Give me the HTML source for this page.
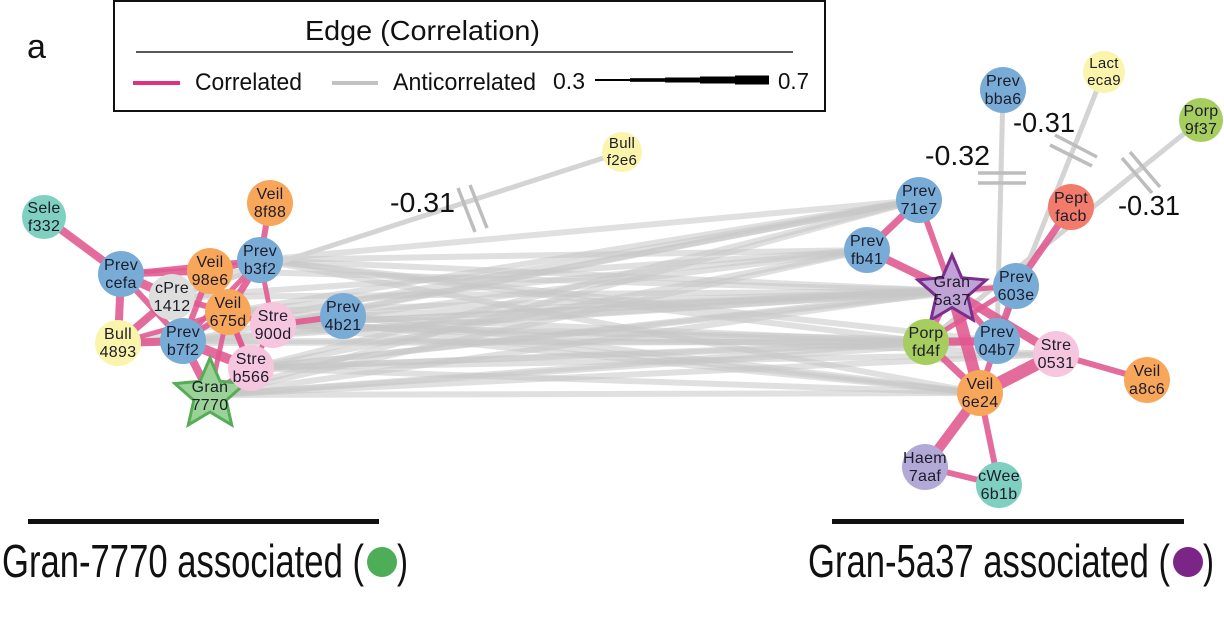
<!DOCTYPE html>
<html><head><meta charset="utf-8">
<style>
html,body{margin:0;padding:0;background:#fff;}
svg{display:block;}
text{font-family:"Liberation Sans",Arial,sans-serif;}
.nl{font-size:16px;fill:#1c1c2a;text-anchor:middle;letter-spacing:0.3px;}
</style></head>
<body>
<svg width="1224" height="628" viewBox="0 0 1224 628" xmlns="http://www.w3.org/2000/svg">
<rect width="1224" height="628" fill="#fff"/>

<!-- Legend -->
<text x="27" y="58" font-size="34" fill="#111">a</text>
<rect x="114" y="1" width="711" height="110" fill="none" stroke="#111" stroke-width="2"/>
<text x="305" y="40" font-size="28" fill="#111" textLength="235" lengthAdjust="spacingAndGlyphs">Edge (Correlation)</text>
<line x1="136" y1="52" x2="793" y2="52" stroke="#222" stroke-width="1.5"/>
<line x1="133" y1="83" x2="180" y2="83" stroke="#e0307f" stroke-width="4"/>
<text x="195" y="90" font-size="24" fill="#111" textLength="107" lengthAdjust="spacingAndGlyphs">Correlated</text>
<line x1="332" y1="83" x2="378" y2="83" stroke="#c2c2c2" stroke-width="4"/>
<text x="393" y="90" font-size="24" fill="#111" textLength="143" lengthAdjust="spacingAndGlyphs">Anticorrelated</text>
<text x="553" y="89" font-size="23" fill="#111" textLength="32" lengthAdjust="spacingAndGlyphs">0.3</text>
<g fill="#000">
<rect x="595" y="79" width="36" height="2"/>
<rect x="630" y="78.2" width="36" height="3.6"/>
<rect x="665" y="77.5" width="36" height="5"/>
<rect x="700" y="76.5" width="36" height="7"/>
<rect x="735" y="75.5" width="34" height="9"/>
</g>
<text x="778" y="89" font-size="23" fill="#111" textLength="31" lengthAdjust="spacingAndGlyphs">0.7</text>

<!-- Gray anticorrelated bundle -->
<g stroke="#c6c6c6" stroke-width="6" stroke-opacity="0.55" stroke-linecap="round">
<!-- to 71e7 -->
<line x1="260" y1="260" x2="919" y2="200"/>
<line x1="273" y1="325" x2="919" y2="200"/>
<line x1="251" y1="368" x2="919" y2="200"/>
<line x1="228" y1="312" x2="919" y2="200"/>
<line x1="210" y1="395" x2="919" y2="200"/>
<line x1="118" y1="343" x2="919" y2="200"/>
<line x1="183" y1="341" x2="919" y2="200"/>
<!-- to fb41 -->
<line x1="260" y1="260" x2="867" y2="250"/>
<line x1="273" y1="325" x2="867" y2="250"/>
<line x1="251" y1="368" x2="867" y2="250"/>
<line x1="210" y1="395" x2="867" y2="250"/>
<line x1="228" y1="312" x2="867" y2="250"/>
<line x1="172" y1="297" x2="867" y2="250"/>
<!-- to 5a37 -->
<line x1="260" y1="260" x2="952" y2="291"/>
<line x1="210" y1="271" x2="952" y2="291"/>
<line x1="273" y1="325" x2="952" y2="291"/>
<line x1="251" y1="368" x2="952" y2="291"/>
<line x1="210" y1="395" x2="952" y2="291"/>
<line x1="228" y1="312" x2="952" y2="291"/>
<line x1="183" y1="341" x2="952" y2="291"/>
<line x1="118" y1="343" x2="952" y2="291"/>
<line x1="172" y1="297" x2="952" y2="291"/>
<line x1="343" y1="316" x2="952" y2="291"/>
<!-- to fd4f -->
<line x1="260" y1="260" x2="926" y2="342"/>
<line x1="273" y1="325" x2="926" y2="342"/>
<line x1="251" y1="368" x2="926" y2="342"/>
<line x1="210" y1="395" x2="926" y2="342"/>
<line x1="228" y1="312" x2="926" y2="342"/>
<line x1="183" y1="341" x2="926" y2="342"/>
<line x1="118" y1="343" x2="926" y2="342"/>
<!-- to 04b7 -->
<line x1="260" y1="260" x2="997" y2="341"/>
<line x1="273" y1="325" x2="997" y2="341"/>
<line x1="210" y1="395" x2="997" y2="341"/>
<line x1="251" y1="368" x2="997" y2="341"/>
<!-- to 6e24 -->
<line x1="260" y1="260" x2="980" y2="393"/>
<line x1="273" y1="325" x2="980" y2="393"/>
<line x1="251" y1="368" x2="980" y2="393"/>
<line x1="210" y1="395" x2="980" y2="393"/>
<line x1="228" y1="312" x2="980" y2="393"/>
<line x1="343" y1="316" x2="980" y2="393"/>
<!-- to 0531 -->
<line x1="273" y1="325" x2="1056" y2="354"/>
<line x1="251" y1="368" x2="1056" y2="354"/>
<line x1="210" y1="395" x2="1056" y2="354"/>
<!-- to 603e -->
<line x1="273" y1="325" x2="1016" y2="286"/>
<line x1="251" y1="368" x2="1016" y2="286"/>
</g>

<!-- labelled anticorrelated edges -->
<g stroke="#d4d4d4" stroke-width="5">
<line x1="622" y1="152" x2="172" y2="297"/>
<line x1="1003" y1="90" x2="997" y2="341"/>
<line x1="1104" y1="72" x2="997" y2="341"/>
<line x1="1201" y1="120" x2="926" y2="342"/>
</g>
<g stroke="#bdbdbd" stroke-width="3.5">
<line x1="458" y1="188" x2="475" y2="232"/>
<line x1="470" y1="185" x2="487" y2="228"/>
<line x1="978" y1="173" x2="1026" y2="173"/>
<line x1="978" y1="183" x2="1026" y2="183"/>
<line x1="1055" y1="135" x2="1097" y2="157"/>
<line x1="1050" y1="145" x2="1092" y2="166"/>
<line x1="1130" y1="152" x2="1160" y2="187"/>
<line x1="1122" y1="158" x2="1152" y2="193"/>
</g>
<text x="390" y="212" font-size="28" fill="#111" textLength="65" lengthAdjust="spacingAndGlyphs">-0.31</text>
<text x="925" y="165" font-size="28" fill="#111" textLength="65" lengthAdjust="spacingAndGlyphs">-0.32</text>
<text x="1013" y="132" font-size="28" fill="#111" textLength="62" lengthAdjust="spacingAndGlyphs">-0.31</text>
<text x="1118" y="215" font-size="28" fill="#111" textLength="62" lengthAdjust="spacingAndGlyphs">-0.31</text>

<!-- Pink correlated edges: left -->
<g stroke="#e05890" stroke-opacity="0.88" stroke-linecap="butt">
<line x1="44" y1="217" x2="121" y2="274" stroke-width="8"/>
<line x1="270" y1="203" x2="260" y2="260" stroke-width="6"/>
<line x1="121" y1="274" x2="210" y2="271" stroke-width="7"/>
<line x1="121" y1="274" x2="260" y2="260" stroke-width="5"/>
<line x1="121" y1="274" x2="172" y2="297" stroke-width="9"/>
<line x1="121" y1="274" x2="118" y2="343" stroke-width="8"/>
<line x1="121" y1="274" x2="183" y2="341" stroke-width="6"/>
<line x1="172" y1="297" x2="118" y2="343" stroke-width="8"/>
<line x1="118" y1="343" x2="183" y2="341" stroke-width="8"/>
<line x1="118" y1="343" x2="228" y2="312" stroke-width="5"/>
<line x1="172" y1="297" x2="228" y2="312" stroke-width="6"/>
<line x1="172" y1="297" x2="183" y2="341" stroke-width="5"/>
<line x1="260" y1="260" x2="210" y2="271" stroke-width="6"/>
<line x1="260" y1="260" x2="228" y2="312" stroke-width="7"/>
<line x1="260" y1="260" x2="273" y2="325" stroke-width="5"/>
<line x1="260" y1="260" x2="183" y2="341" stroke-width="5"/>
<line x1="210" y1="271" x2="228" y2="312" stroke-width="5"/>
<line x1="210" y1="271" x2="183" y2="341" stroke-width="6"/>
<line x1="210" y1="271" x2="251" y2="368" stroke-width="5"/>
<line x1="228" y1="312" x2="273" y2="325" stroke-width="5"/>
<line x1="228" y1="312" x2="251" y2="368" stroke-width="6"/>
<line x1="228" y1="312" x2="183" y2="341" stroke-width="6"/>
<line x1="228" y1="312" x2="210" y2="395" stroke-width="5"/>
<line x1="273" y1="325" x2="343" y2="316" stroke-width="6"/>
<line x1="273" y1="325" x2="251" y2="368" stroke-width="5"/>
<line x1="183" y1="341" x2="210" y2="395" stroke-width="8"/>
<line x1="183" y1="341" x2="251" y2="368" stroke-width="10"/>
<line x1="251" y1="368" x2="210" y2="395" stroke-width="6"/>
</g>
<!-- Pink correlated edges: right -->
<g stroke="#e05890" stroke-opacity="0.88" stroke-linecap="butt">
<line x1="919" y1="200" x2="867" y2="250" stroke-width="7"/>
<line x1="919" y1="200" x2="952" y2="291" stroke-width="6"/>
<line x1="867" y1="250" x2="952" y2="291" stroke-width="8"/>
<line x1="952" y1="291" x2="926" y2="342" stroke-width="5"/>
<line x1="952" y1="291" x2="997" y2="341" stroke-width="6"/>
<line x1="952" y1="291" x2="980" y2="393" stroke-width="12"/>
<line x1="952" y1="291" x2="1056" y2="354" stroke-width="9"/>
<line x1="952" y1="291" x2="1016" y2="286" stroke-width="5"/>
<line x1="1016" y1="286" x2="1071" y2="207" stroke-width="7"/>
<line x1="1016" y1="286" x2="926" y2="342" stroke-width="5"/>
<line x1="1016" y1="286" x2="997" y2="341" stroke-width="7"/>
<line x1="926" y1="342" x2="997" y2="341" stroke-width="8"/>
<line x1="926" y1="342" x2="980" y2="393" stroke-width="7"/>
<line x1="997" y1="341" x2="980" y2="393" stroke-width="6"/>
<line x1="980" y1="393" x2="1056" y2="354" stroke-width="13"/>
<line x1="1056" y1="354" x2="1147" y2="380" stroke-width="6"/>
<line x1="980" y1="393" x2="925" y2="467" stroke-width="10"/>
<line x1="980" y1="393" x2="999" y2="485" stroke-width="6"/>
<line x1="925" y1="467" x2="999" y2="485" stroke-width="6"/>
</g>

<!-- Left nodes -->
<g>
<circle cx="44" cy="217" r="22" fill="#7fd0c0"/>
<text class="nl" x="44" y="213">Sele</text><text class="nl" x="44" y="231">f332</text>
<circle cx="270" cy="203" r="23" fill="#f8a75a"/>
<text class="nl" x="270" y="199">Veil</text><text class="nl" x="270" y="217">8f88</text>
<circle cx="121" cy="274" r="23" fill="#78acd6"/>
<text class="nl" x="121" y="270">Prev</text><text class="nl" x="121" y="288">cefa</text>
<circle cx="172" cy="297" r="23" fill="#dedede"/>
<text class="nl" x="172" y="293">cPre</text><text class="nl" x="172" y="311">1412</text>
<circle cx="210" cy="271" r="23" fill="#f8a75a"/>
<text class="nl" x="210" y="267">Veil</text><text class="nl" x="210" y="285">98e6</text>
<circle cx="260" cy="260" r="23" fill="#78acd6"/>
<text class="nl" x="260" y="256">Prev</text><text class="nl" x="260" y="274">b3f2</text>
<circle cx="118" cy="343" r="23" fill="#fbf4ab"/>
<text class="nl" x="118" y="339">Bull</text><text class="nl" x="118" y="357">4893</text>
<circle cx="183" cy="341" r="23" fill="#78acd6"/>
<text class="nl" x="183" y="337">Prev</text><text class="nl" x="183" y="355">b7f2</text>
<circle cx="273" cy="325" r="23" fill="#f6c6df"/>
<text class="nl" x="273" y="321">Stre</text><text class="nl" x="273" y="339">900d</text>
<circle cx="228" cy="312" r="23" fill="#f8a75a"/>
<text class="nl" x="228" y="308">Veil</text><text class="nl" x="228" y="326">675d</text>
<circle cx="343" cy="316" r="23" fill="#78acd6"/>
<text class="nl" x="343" y="312">Prev</text><text class="nl" x="343" y="330">4b21</text>
<polygon points="210,358 220,381.2 245.2,383.6 226.2,400.3 231.7,424.9 210,412 188.3,424.9 193.8,400.3 174.8,383.6 200,381.2" fill="#9bd297" stroke="#55ad55" stroke-width="3" stroke-linejoin="miter"/>
<text class="nl" x="210" y="392">Gran</text><text class="nl" x="210" y="410">7770</text>
<circle cx="251" cy="368" r="23" fill="#f6c6df"/>
<text class="nl" x="251" y="364">Stre</text><text class="nl" x="251" y="382">b566</text>
<circle cx="622" cy="152" r="20" fill="#fbf4ab"/>
<text class="nl" x="622" y="148" style="font-size:15px">Bull</text><text class="nl" x="622" y="165" style="font-size:15px">f2e6</text>
</g>

<!-- Right nodes -->
<g>
<circle cx="1003" cy="90" r="23" fill="#78acd6"/>
<text class="nl" x="1003" y="86">Prev</text><text class="nl" x="1003" y="104">bba6</text>
<circle cx="1104" cy="72" r="21" fill="#fbf4ab"/>
<text class="nl" x="1104" y="68" style="font-size:15px">Lact</text><text class="nl" x="1104" y="85" style="font-size:15px">eca9</text>
<circle cx="1201" cy="120" r="22" fill="#a6cd5e"/>
<text class="nl" x="1201" y="116">Porp</text><text class="nl" x="1201" y="134">9f37</text>
<circle cx="919" cy="200" r="23" fill="#78acd6"/>
<text class="nl" x="919" y="196">Prev</text><text class="nl" x="919" y="214">71e7</text>
<circle cx="1071" cy="207" r="23" fill="#f27b6b"/>
<text class="nl" x="1071" y="203">Pept</text><text class="nl" x="1071" y="221">facb</text>
<circle cx="867" cy="250" r="23" fill="#78acd6"/>
<text class="nl" x="867" y="246">Prev</text><text class="nl" x="867" y="264">fb41</text>
<circle cx="1016" cy="286" r="23" fill="#78acd6"/>
<text class="nl" x="1016" y="282">Prev</text><text class="nl" x="1016" y="300">603e</text>
<polygon points="952,255 961.7,277.7 986.2,279.9 967.7,296.1 973.2,320.1 952,307.5 930.8,320.1 936.3,296.1 917.8,279.9 942.3,277.7" fill="#c0a2d6" stroke="#7a2f8f" stroke-width="3"/>
<text class="nl" x="952" y="287">Gran</text><text class="nl" x="952" y="305">5a37</text>
<circle cx="926" cy="342" r="23" fill="#a6cd5e"/>
<text class="nl" x="926" y="338">Porp</text><text class="nl" x="926" y="356">fd4f</text>
<circle cx="1056" cy="354" r="23" fill="#f6c6df"/>
<text class="nl" x="1056" y="350">Stre</text><text class="nl" x="1056" y="368">0531</text>
<circle cx="997" cy="341" r="23" fill="#78acd6"/>
<text class="nl" x="997" y="337">Prev</text><text class="nl" x="997" y="355">04b7</text>
<circle cx="1147" cy="380" r="23" fill="#f8a75a"/>
<text class="nl" x="1147" y="376">Veil</text><text class="nl" x="1147" y="394">a8c6</text>
<circle cx="980" cy="393" r="23" fill="#f8a75a"/>
<text class="nl" x="980" y="389">Veil</text><text class="nl" x="980" y="407">6e24</text>
<circle cx="925" cy="467" r="23" fill="#b2a9d6"/>
<text class="nl" x="925" y="463">Haem</text><text class="nl" x="925" y="481">7aaf</text>
<circle cx="999" cy="485" r="23" fill="#7fd0c0"/>
<text class="nl" x="999" y="481">cWee</text><text class="nl" x="999" y="499">6b1b</text>
</g>

<!-- Bottom group labels -->
<rect x="28" y="519" width="351" height="5" fill="#111"/>
<rect x="832" y="519" width="352" height="5" fill="#111"/>
<text x="2" y="577" font-size="46" fill="#111" textLength="362" lengthAdjust="spacingAndGlyphs">Gran-7770 associated (</text>
<ellipse cx="382" cy="562" rx="15" ry="15" fill="#4eae57"/>
<text x="397" y="577" font-size="46" fill="#111" textLength="11" lengthAdjust="spacingAndGlyphs">)</text>
<text x="808" y="577" font-size="46" fill="#111" textLength="362" lengthAdjust="spacingAndGlyphs">Gran-5a37 associated (</text>
<ellipse cx="1188" cy="562" rx="15" ry="15" fill="#7b2587"/>
<text x="1203" y="577" font-size="46" fill="#111" textLength="11" lengthAdjust="spacingAndGlyphs">)</text>
</svg>
</body></html>
